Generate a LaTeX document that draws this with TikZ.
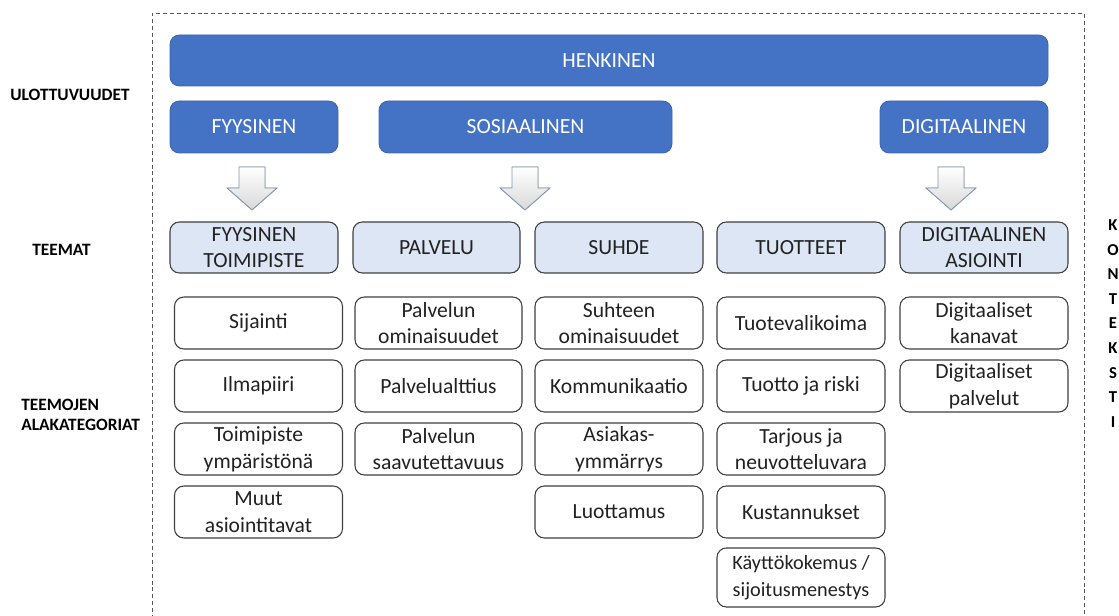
\documentclass[tikz,border=0pt]{standalone}
\usepackage{fontspec}
\setmainfont{Carlito}
\definecolor{dimblue}{HTML}{4472C4}
\definecolor{dimedge}{HTML}{3A64B0}
\definecolor{themefill}{HTML}{DCE6F4}
\definecolor{edgegray}{HTML}{404040}
\definecolor{txtgray}{HTML}{222222}
\definecolor{arrowedge}{HTML}{8496B0}
\definecolor{framegray}{HTML}{555555}
\begin{document}
\begin{tikzpicture}[x=0.75pt,y=-0.75pt,
  sz/.style 2 args={minimum width=#1*0.75pt, minimum height=#2*0.75pt},
  basefont/.style={font=\fontsize{16.2}{20}\selectfont},
  dimbox/.style={draw=dimedge, fill=dimblue, rounded corners=7pt, text=white, basefont, inner sep=0pt, line width=0.6pt},
  themebox/.style={draw=edgegray, fill=themefill, rounded corners=7pt, align=center, text=txtgray, basefont, inner sep=0pt, line width=0.8pt},
  subbox/.style={draw=edgegray, fill=white, rounded corners=7pt, align=center, text=txtgray, basefont, inner sep=0pt, line width=0.8pt},
  sidelabel/.style={font=\bfseries\fontsize{13}{15}\selectfont, text=black, inner sep=0pt},
  blockarrow/.pic={
    \filldraw[draw=arrowedge, line width=0.7pt, top color=white, bottom color=black!15]
      (-13,0) -- (13,0) -- (13,21) -- (25,21) -- (0,43) -- (-25,21) -- (-13,21) -- cycle;
  }
]
\useasboundingbox (0,0) rectangle (1119,616);

% dashed frame
\draw[framegray, dashed, dash pattern=on 3pt off 2.2pt, line width=0.6pt]
  (152,640) -- (152,13) -- (1084,13) -- (1084,640);

% side labels
\node[sidelabel] (lu) at (70,95) {ULOTTUVUUDET};
\node[sidelabel] (lt) at (61.5,250) {TEEMAT};
\node[sidelabel, anchor=west, align=left, font=\bfseries\fontsize{13}{15}\selectfont] (lta) at (21,415) {TEEMOJEN\\ALAKATEGORIAT};
\node[sidelabel, align=center, font=\bfseries\fontsize{12.5}{18.45}\selectfont] (lk) at (1113,323.5) {K\\O\\N\\T\\E\\K\\S\\T\\I};

% dimensions
\node[dimbox, sz={878}{51}] (henk) at (609,60.5) {HENKINEN};
\node[dimbox, sz={168}{52}] (fyys) at (254,127) {FYYSINEN};
\node[dimbox, sz={293}{52}] (sos) at (525.5,127) {SOSIAALINEN};
\node[dimbox, sz={168}{52}] (digi) at (964,127) {DIGITAALINEN};

% block arrows
\pic at (252,167) {blockarrow};
\pic at (525,167) {blockarrow};
\pic at (951,167) {blockarrow};

% themes
\node[themebox, sz={168}{51}] (t1) at (254,247.5) {FYYSINEN\\TOIMIPISTE};
\node[themebox, sz={167}{51}] (t2) at (436.5,247.5) {PALVELU};
\node[themebox, sz={168}{51}] (t3) at (619,247.5) {SUHDE};
\node[themebox, sz={168}{51}] (t4) at (801,247.5) {TUOTTEET};
\node[themebox, sz={168}{51}] (t5) at (984,247.5) {DIGITAALINEN\\ASIOINTI};

% column 1
\node[subbox, sz={168}{52}] (s11) at (258.5,323) {Sijainti};
\node[subbox, sz={168}{52}] (s12) at (258.5,386) {Ilmapiiri};
\node[subbox, sz={168}{52}] (s13) at (258.5,449) {Toimipiste\\ympäristönä};
\node[subbox, sz={168}{52}] (s14) at (258.5,512) {Muut\\asiointitavat};
% column 2
\node[subbox, sz={167}{52}] (s21) at (438.5,323) {Palvelun\\ominaisuudet};
\node[subbox, sz={167}{52}] (s22) at (438.5,386) {Palvelualttius};
\node[subbox, sz={167}{52}] (s23) at (438.5,449) {Palvelun\\saavutettavuus};
% column 3
\node[subbox, sz={168}{52}] (s31) at (619,323) {Suhteen\\ominaisuudet};
\node[subbox, sz={168}{52}] (s32) at (619,386) {Kommunikaatio};
\node[subbox, sz={168}{52}] (s33) at (619,449) {Asiakas-\\ymmärrys};
\node[subbox, sz={168}{52}] (s34) at (619,512) {Luottamus};
% column 4
\node[subbox, sz={168}{52}] (s41) at (801,323) {Tuotevalikoima};
\node[subbox, sz={168}{52}] (s42) at (801,386) {Tuotto ja riski};
\node[subbox, sz={168}{52}] (s43) at (801,449) {Tarjous ja\\neuvotteluvara};
\node[subbox, sz={168}{52}] (s44) at (801,512) {Kustannukset};
\node[subbox, sz={168}{59}, font=\fontsize{15.2}{20.5}\selectfont] (s45) at (801,577.5) {Käyttökokemus /\\sijoitusmenestys};
% column 5
\node[subbox, sz={168}{52}] (s51) at (984,323) {Digitaaliset\\kanavat};
\node[subbox, sz={168}{52}] (s52) at (984,386) {Digitaaliset\\palvelut};
\end{tikzpicture}
\end{document}
